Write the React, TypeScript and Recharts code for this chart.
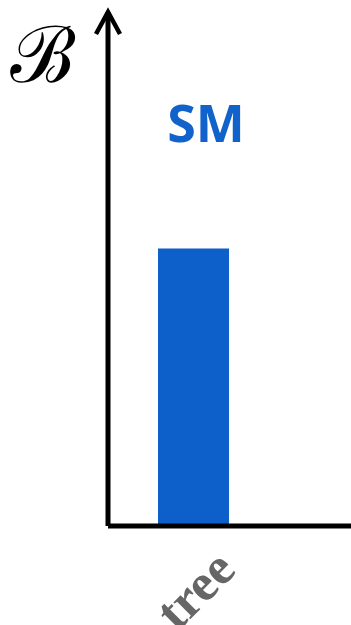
import * as React from "react";
import { BarChart, Bar, XAxis, YAxis } from "recharts";

const categories = ["tree"];
const values = [54];

const data = categories.map((name, i) => ({ name, value: values[i] }));

const TreeTick = (props: any) => {
    const { x, payload } = props;
    return (
        <text
            x={x + 44}
            y={572}
            transform={`rotate(-45, ${x + 44}, 572)`}
            textAnchor="end"
            fill="#666"
            fontFamily="'Liberation Serif', serif"
            fontWeight="bold"
            fontSize={52}
        >
            {payload.value}
        </text>
    );
};

const AxisDecor = (props: any) => {
    const { viewBox } = props;
    const x = viewBox.x + viewBox.width;
    const top = viewBox.y;
    return (
        <g>
            <polyline
                points={`${x - 12},${top + 22} ${x},${top} ${x + 12},${top + 22}`}
                fill="none"
                stroke="#000"
                strokeWidth={4.5}
            />
            <text x={42} y={82} textAnchor="middle" fontFamily="'DejaVu Serif', serif" fontSize={78} fill="#000">
                ℬ
            </text>
        </g>
    );
};

export default function App() {
    return (
        <div style={{ position: "absolute", left: 0, top: 0, width: 351, height: 625, background: "#fff" }}>
            <BarChart width={351} height={625} data={data} margin={{ top: 12, right: 0, bottom: 0, left: 0 }}>
                <XAxis
                    dataKey="name"
                    height={99}
                    axisLine={{ stroke: "#000", strokeWidth: 5 }}
                    tickLine={false}
                    padding={{ left: 0, right: 72 }}
                    tick={<TreeTick />}
                    interval={0}
                />
                <YAxis
                    width={108}
                    domain={[0, 100]}
                    axisLine={{ stroke: "#000", strokeWidth: 5 }}
                    tick={false}
                    tickLine={false}
                    label={<AxisDecor />}
                />
                <Bar dataKey="value" fill="#0d5fc9" barSize={71} isAnimationActive={false} />
            </BarChart>
            <div
                style={{
                    position: "absolute",
                    left: 206,
                    top: 122,
                    transform: "translate(-50%, -50%)",
                    color: "#1262cc",
                    fontFamily: "'Open Sans', sans-serif",
                    fontWeight: "bold",
                    fontSize: 52,
                    lineHeight: 1,
                }}
            >
                SM
            </div>
        </div>
    );
}
